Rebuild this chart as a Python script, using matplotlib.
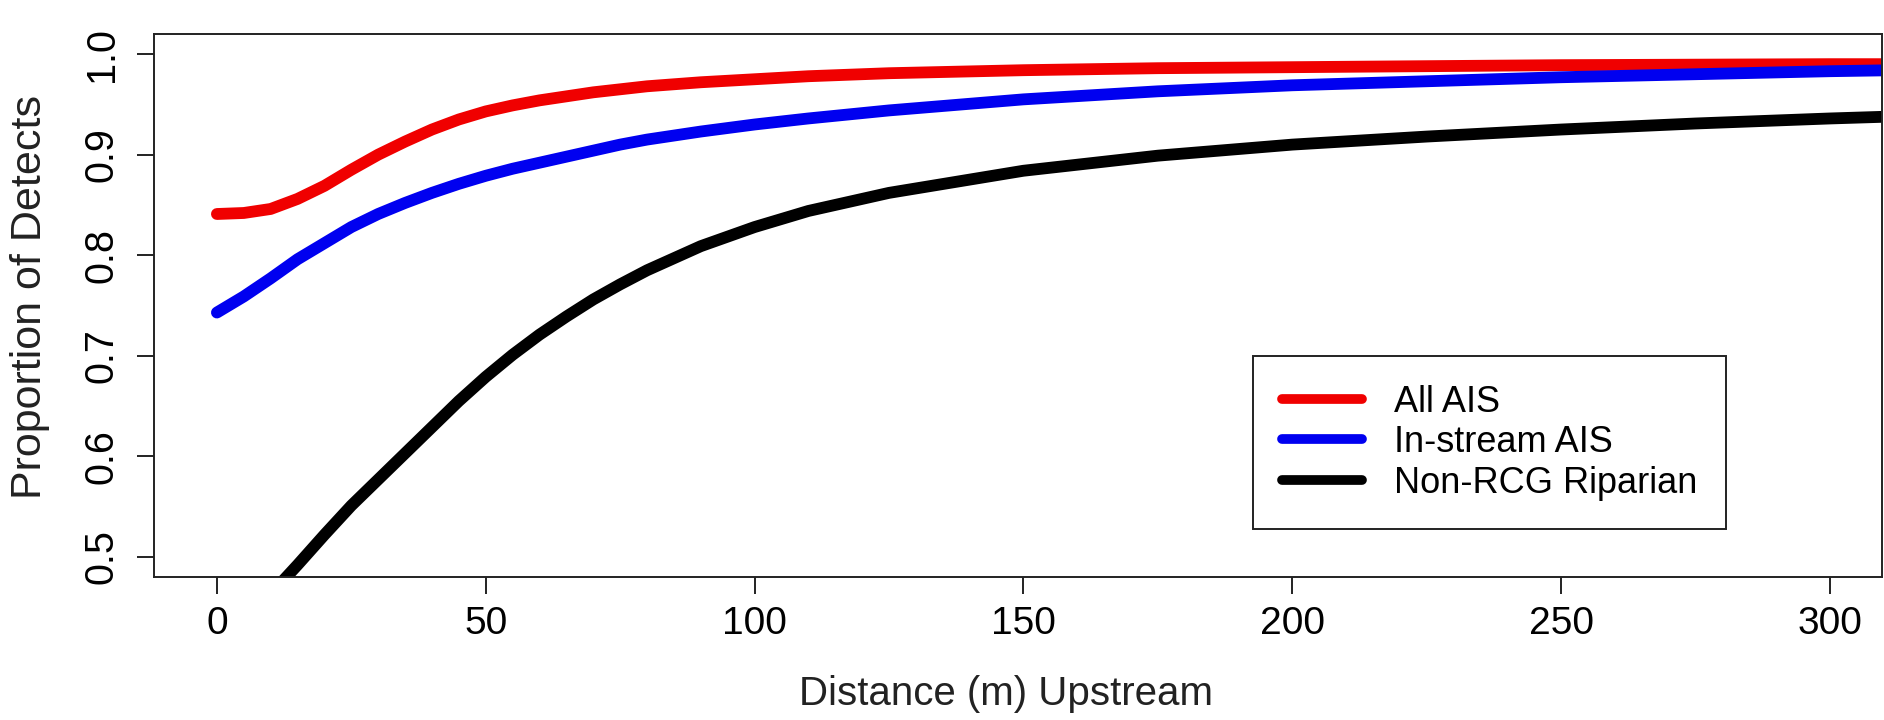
import numpy as np
import matplotlib.pyplot as plt

# distance upstream (m) and proportion of detects
dist = [0, 5, 10, 15, 20, 25, 30, 35, 40, 45, 50, 55, 60, 65, 70, 75, 80, 90, 100,
        110, 125, 150, 175, 200, 250, 300, 312]
all_ais = [0.841, 0.842, 0.846, 0.856, 0.869, 0.885, 0.900, 0.913, 0.925, 0.935, 0.943,
           0.949, 0.954, 0.958, 0.962, 0.965, 0.968, 0.972, 0.975, 0.978, 0.981, 0.984,
           0.986, 0.987, 0.989, 0.990, 0.990]
instream_ais = [0.743, 0.759, 0.777, 0.796, 0.812, 0.828, 0.841, 0.852, 0.862, 0.871, 0.879,
                0.886, 0.892, 0.898, 0.904, 0.910, 0.915, 0.923, 0.930, 0.936, 0.944, 0.955,
                0.963, 0.969, 0.977, 0.983, 0.984]
dist_rip = [10, 15, 20, 25, 30, 35, 40, 45, 50, 55, 60, 65, 70, 75, 80, 90, 100, 110,
            125, 150, 175, 200, 225, 250, 275, 300, 312]
non_rcg = [0.463, 0.492, 0.522, 0.551, 0.577, 0.603, 0.629, 0.655, 0.679, 0.701, 0.721,
           0.739, 0.756, 0.771, 0.785, 0.809, 0.828, 0.844, 0.862, 0.884, 0.899, 0.910,
           0.918, 0.925, 0.931, 0.936, 0.938]

xticks = [0, 50, 100, 150, 200, 250, 300]
yticks = [0.5, 0.6, 0.7, 0.8, 0.9, 1.0]

plt.rcParams['font.family'] = ['Liberation Sans', 'DejaVu Sans']

fig = plt.figure(figsize=(18.84, 7.2), dpi=100)
ax = fig.add_axes([154/1884, 143/720, 1728/1884, 543/720])

lw = 8.5
style = dict(lw=lw, solid_capstyle='round', solid_joinstyle='round')
ax.plot(dist, all_ais, color='#f00000', label='All AIS', **style)
ax.plot(dist, instream_ais, color='#0000f0', label='In-stream AIS', **style)
ax.plot(dist_rip, non_rcg, color='black', label='Non-RCG Riparian', **style)

ax.set_xlim(-11.7, 309.7)
ax.set_ylim(0.48, 1.02)
ax.set_xticks(xticks)
ax.set_xticklabels([str(v) for v in xticks], fontsize=28)
ax.set_yticks(yticks)
ax.set_yticklabels(['%.1f' % v for v in yticks], fontsize=28.5, rotation=90, va='center')
ax.tick_params(axis='both', length=12, width=1.4, color='#222222')
ax.tick_params(axis='x', pad=9)
ax.tick_params(axis='y', pad=12)
for s in ax.spines.values():
    s.set_linewidth(1.4)
    s.set_color('#222222')

ax.set_xlabel('Distance (m) Upstream', fontsize=29, color='#222222')
ax.xaxis.set_label_coords(0.493, -0.2155)
ax.xaxis.label.set_va('center')
ax.set_ylabel('Proportion of Detects', fontsize=31, color='#222222')
ax.yaxis.set_label_coords(-0.0718, 0.515)
ax.yaxis.label.set_va('center')

leg = ax.legend(loc='center', bbox_to_anchor=(0.636, 0.088, 0.274, 0.319), fontsize=26,
                frameon=True, fancybox=False, edgecolor='#222222', framealpha=1,
                handlelength=2.2, handletextpad=0.9, borderpad=0.8, labelspacing=0.15,
                borderaxespad=0)
leg.get_frame().set_linewidth(1.4)
for h in leg.get_lines():
    h.set_linewidth(7)
    h.set_solid_capstyle('round')

fig.savefig('out.png', dpi=100)
